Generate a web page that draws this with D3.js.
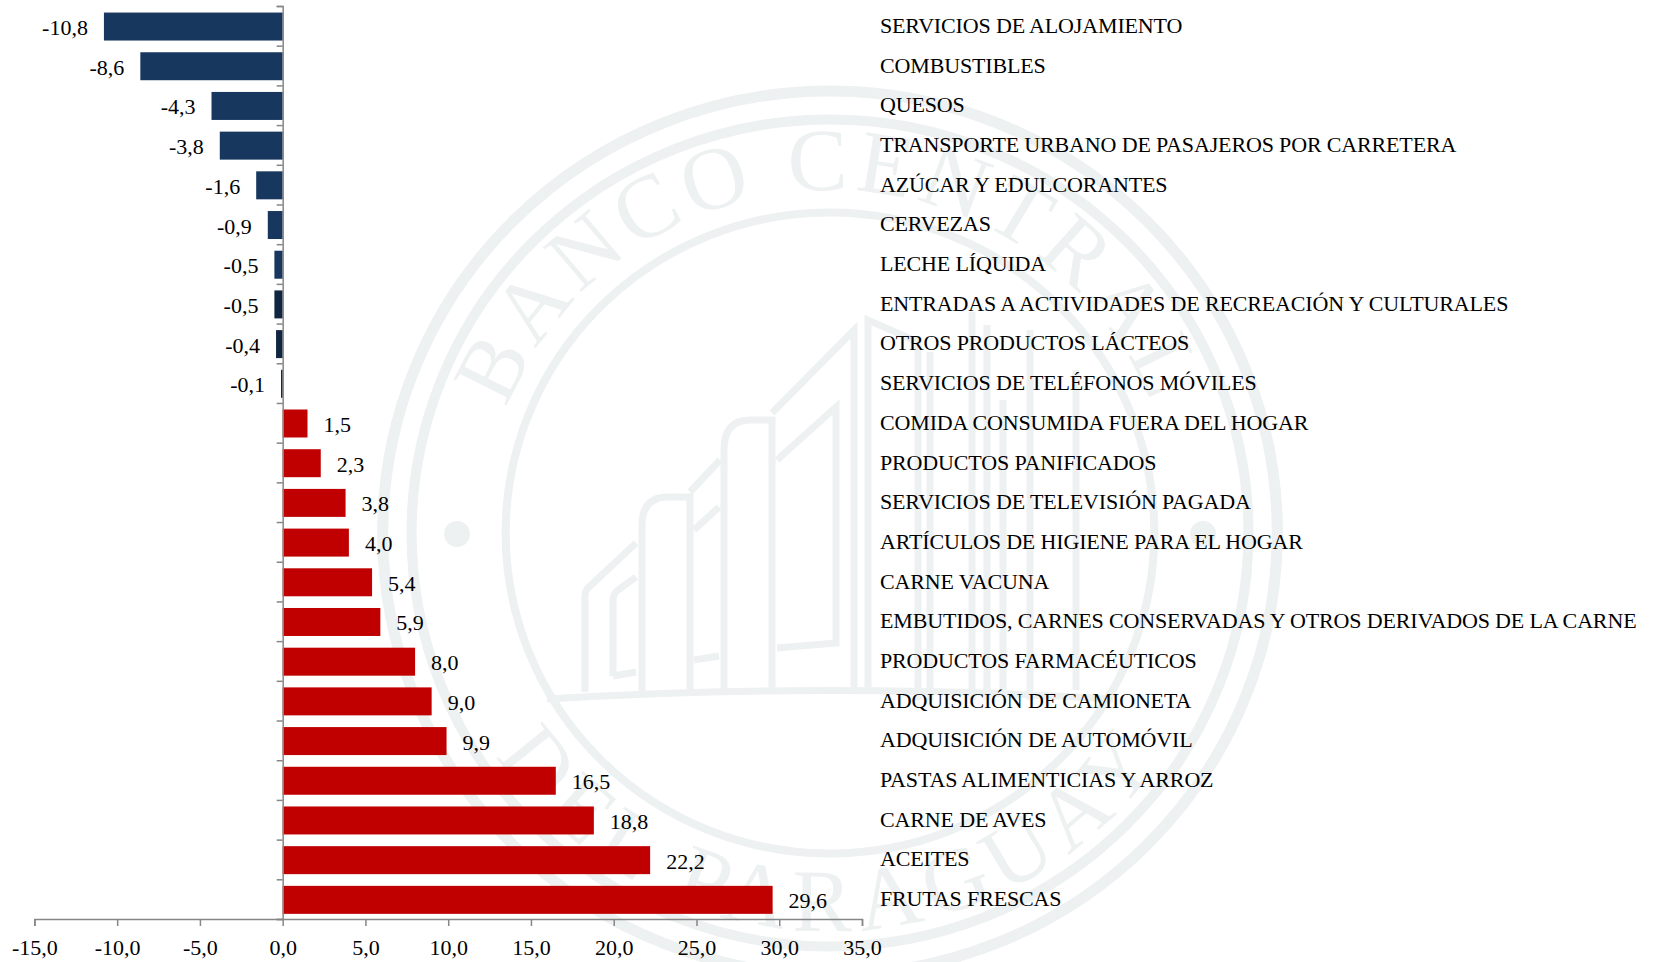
<!DOCTYPE html>
<html>
<head>
<meta charset="utf-8">
<script src="https://cdn.jsdelivr.net/npm/d3@7"></script>
<style>
  html, body { margin: 0; background: #fff; }
  svg { display: block; }
  text { font-family: "Liberation Serif", serif; fill: #000; }
</style>
</head>
<body>
<script>
const categories = [
  'SERVICIOS DE ALOJAMIENTO', 'COMBUSTIBLES', 'QUESOS',
  'TRANSPORTE URBANO DE PASAJEROS POR CARRETERA', 'AZÚCAR Y EDULCORANTES',
  'CERVEZAS', 'LECHE LÍQUIDA', 'ENTRADAS A ACTIVIDADES DE RECREACIÓN Y CULTURALES',
  'OTROS PRODUCTOS LÁCTEOS', 'SERVICIOS DE TELÉFONOS MÓVILES',
  'COMIDA CONSUMIDA FUERA DEL HOGAR', 'PRODUCTOS PANIFICADOS',
  'SERVICIOS DE TELEVISIÓN PAGADA', 'ARTÍCULOS DE HIGIENE PARA EL HOGAR',
  'CARNE VACUNA', 'EMBUTIDOS, CARNES CONSERVADAS Y OTROS DERIVADOS DE LA CARNE',
  'PRODUCTOS FARMACÉUTICOS', 'ADQUISICIÓN DE CAMIONETA', 'ADQUISICIÓN DE AUTOMÓVIL',
  'PASTAS ALIMENTICIAS Y ARROZ', 'CARNE DE AVES', 'ACEITES', 'FRUTAS FRESCAS'
]
const values = [
  -10.8, -8.6, -4.3, -3.8, -1.6, -0.9, -0.5, -0.5, -0.4, -0.1,
  1.5, 2.3, 3.8, 4.0, 5.4, 5.9, 8.0, 9.0, 9.9, 16.5, 18.8, 22.2, 29.6
]
const xTicks = [-15, -10, -5, 0, 5, 10, 15, 20, 25, 30, 35]

const width = 1653
const height = 962
const labelX = 880
const fontSize = 22
const fmt = (v) => d3.format('.1f')(v).replace('.', ',').replace('−', '-')

const svg = d3.select('body').append('svg')
  .attr('width', width)
  .attr('height', height)

// Watermark seal behind the chart
const wmColor = '#eef1f1'
const wm = svg.append('g').attr('class', 'watermark')
const seal = wm.append('g').attr('transform', 'translate(830,533) scale(1.012,1)')

seal.selectAll('circle.ring')
  .data([[442, 11], [413.5, 10], [320.5, 8]])
  .join('circle')
  .attr('class', 'ring')
  .attr('r', (d) => d[0])
  .attr('fill', 'none')
  .attr('stroke', wmColor)
  .attr('stroke-width', (d) => d[1])

seal.append('path').attr('id', 'arcTop').attr('fill', 'none')
  .attr('d', 'M -343 0 A 343 343 0 0 1 343 0')
seal.append('path').attr('id', 'arcBottom').attr('fill', 'none')
  .attr('d', 'M -398 0 A 398 398 0 0 0 398 0')

const sealText = (id, str, spacing) => seal.append('text')
  .attr('font-size', 89)
  .attr('letter-spacing', spacing)
  .style('fill', wmColor)
  .append('textPath')
  .attr('href', `#${id}`)
  .attr('startOffset', '50%')
  .attr('text-anchor', 'middle')
  .text(str)

sealText('arcTop', 'BANCO CENTRAL', 6)
sealText('arcBottom', 'DEL PARAGUAY', 9)

wm.selectAll('circle.dot')
  .data([457, 1203])
  .join('circle')
  .attr('class', 'dot')
  .attr('cx', (d) => d)
  .attr('cy', 534)
  .attr('r', 13)
  .attr('fill', wmColor)

// Building outline, traced by eye
const buildingPaths = [
  'M547 699 Q830 682 1113 699',
  'M585 692 V596 Q585 590 590 586 L636 543',
  'M613 676 V600 Q613 594 618 590 L636 577 M613 676 L636 672',
  'M642 692 V525 Q642 497 668 497 H690 V692',
  'M690 492 L720 460 M694 530 L719 507 M694 660 L719 656',
  'M724 692 V450 Q724 420 750 420 H772 V692',
  'M772 413 L854 330 V692',
  'M777 460 L836 407 V643 L777 648',
  'M868 692 V320 L918 342 V700 M930 700 V352',
  'M972 700 V312 M987 700 V325',
  'M1003 690 V400 M1030 700 V330 M1076 690 V370'
]
wm.selectAll('path.building')
  .data(buildingPaths)
  .join('path')
  .attr('class', 'building')
  .attr('d', (d) => d)
  .attr('fill', 'none')
  .attr('stroke', wmColor)
  .attr('stroke-width', 7)

const xScale = d3.scaleLinear().domain([-15, 35]).range([34.4, 862])
const yScale = d3.scaleBand().domain(categories).range([6.7, 919.7])
  .paddingInner(0.295).paddingOuter(0.1475)
// ticks sit between the bands, not on them
const yEdge = d3.scaleLinear().domain([0, categories.length]).range([6, 919])

const barColor = (d, i) => d >= 0 ? '#c00000' : (i >= 7 ? '#10253f' : '#17375e')

svg.append('g').selectAll('rect')
  .data(values)
  .join('rect')
  .attr('x', (d) => xScale(Math.min(d, 0)))
  .attr('y', (d, i) => yScale(categories[i]))
  .attr('width', (d) => Math.abs(xScale(d) - xScale(0)))
  .attr('height', yScale.bandwidth())
  .attr('fill', barColor)

// Value labels
svg.append('g').selectAll('text')
  .data(values)
  .join('text')
  .attr('x', (d) => d < 0 ? xScale(d) - 16 : xScale(d) + 16)
  .attr('y', (d, i) => yScale(categories[i]) + yScale.bandwidth() / 2 + 8.5)
  .attr('text-anchor', (d) => d < 0 ? 'end' : 'start')
  .attr('font-size', fontSize)
  .text(fmt)

// Category names in a column on the right
svg.append('g').selectAll('text')
  .data(categories)
  .join('text')
  .attr('x', labelX)
  .attr('y', (d) => yScale(d) + yScale.bandwidth() / 2 + 6.3)
  .attr('font-size', fontSize)
  .attr('letter-spacing', -0.15)
  .text((d) => d)

const xAxis = d3.axisBottom(xScale).tickValues(xTicks).tickSize(7).tickFormat(fmt)
const yAxis = d3.axisLeft(yEdge).tickValues(d3.range(categories.length + 1)).tickSize(6).tickFormat('')

const g_yAxis = svg.append('g').attr('transform', `translate(${xScale(0)},0)`).call(yAxis)
const g_xAxis = svg.append('g').attr('transform', 'translate(0,919)').call(xAxis)

g_xAxis.selectAll('text')
  .attr('y', 36).attr('dy', 0)
  .attr('font-size', fontSize)
  .attr('font-family', '"Liberation Serif", serif')
  .style('fill', '#000')

for (const g of [g_xAxis, g_yAxis]) {
  g.selectAll('.domain, .tick line').attr('stroke', '#868686').attr('stroke-width', 1.5)
}
</script>
</body>
</html>
